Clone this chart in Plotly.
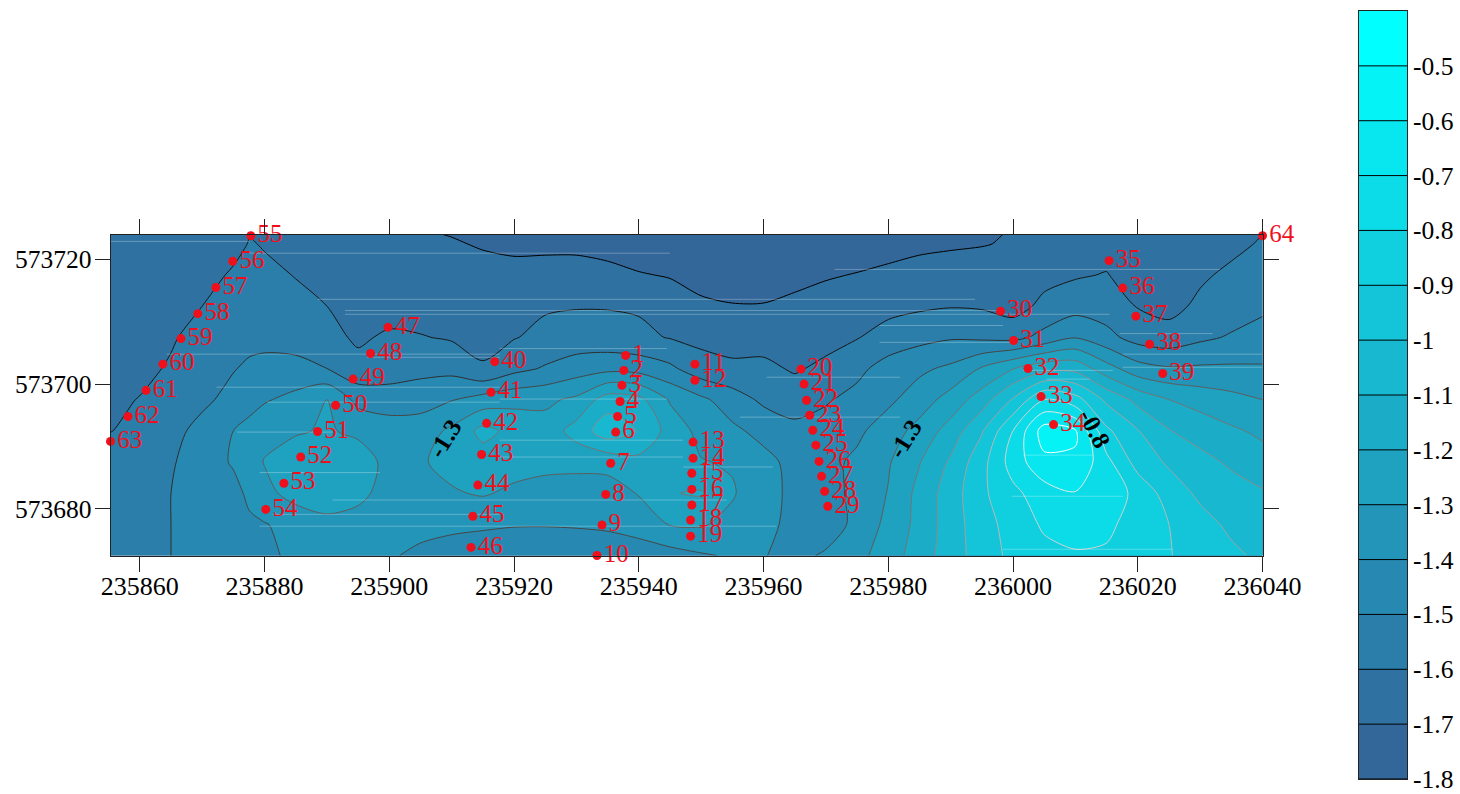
import plotly.graph_objects as go

# ---- data ----
GRID_X = [235855,235860,235865,235870,235875,235877.6,235880,235885,235890,235895,235900,235905,235910,235915,235920,235925,235930,235935,235940,235945,235950,235955,235960,235965,235970,235975,235980,235985,235990,235995,236000,236005,236010,236015,236020,236025,236030,236035,236040]
GRID_Y = [573672.5, 573677.5, 573682.5, 573687.5, 573692.5, 573697.5,
          573702.5, 573707.5, 573712.5, 573717.5, 573722.5, 573724]
R0 = [-1.54,-1.53,-1.50,-1.47,-1.44,-1.42,-1.41,-1.39,-1.37,-1.37,-1.39,-1.42,-1.43,-1.44,-1.45,-1.46,-1.47,-1.47,-1.46,-1.44,-1.41,-1.39,-1.397,-1.42,-1.39,-1.33,-1.25,-1.15,-1.05,-0.95,-0.875,-0.83,-0.81,-0.81,-0.85,-0.895,-0.94,-0.98,-1.02]
R1 = [-1.53,-1.52,-1.50,-1.46,-1.43,-1.415,-1.405,-1.37,-1.34,-1.33,-1.34,-1.37,-1.385,-1.39,-1.395,-1.395,-1.39,-1.38,-1.35,-1.295,-1.29,-1.33,-1.38,-1.42,-1.44,-1.38,-1.27,-1.17,-1.05,-0.94,-0.86,-0.785,-0.76,-0.785,-0.83,-0.90,-0.965,-1.02,-1.05]
R2 = [-1.52,-1.52,-1.50,-1.45,-1.43,-1.38,-1.33,-1.26,-1.22,-1.28,-1.33,-1.34,-1.31,-1.29,-1.32,-1.34,-1.35,-1.34,-1.295,-1.205,-1.19,-1.29,-1.37,-1.42,-1.43,-1.38,-1.295,-1.17,-1.05,-0.92,-0.825,-0.745,-0.705,-0.735,-0.83,-0.945,-1.02,-1.06,-1.09]
R3 = [-1.53,-1.52,-1.51,-1.45,-1.39,-1.34,-1.295,-1.25,-1.22,-1.25,-1.33,-1.31,-1.27,-1.25,-1.26,-1.27,-1.27,-1.27,-1.23,-1.27,-1.295,-1.31,-1.37,-1.43,-1.43,-1.38,-1.31,-1.205,-1.085,-0.935,-0.755,-0.625,-0.61,-0.77,-0.94,-1.015,-1.07,-1.115,-1.16]
R4 = [-1.605,-1.57,-1.53,-1.47,-1.40,-1.365,-1.33,-1.31,-1.29,-1.32,-1.35,-1.35,-1.28,-1.17,-1.23,-1.26,-1.16,-1.04,-1.105,-1.24,-1.33,-1.38,-1.43,-1.47,-1.46,-1.42,-1.35,-1.265,-1.16,-1.01,-0.80,-0.55,-0.59,-0.88,-0.995,-1.095,-1.14,-1.185,-1.22]
R5 = [-1.63,-1.595,-1.56,-1.52,-1.47,-1.44,-1.41,-1.37,-1.30,-1.43,-1.45,-1.44,-1.405,-1.36,-1.33,-1.32,-1.28,-1.15,-1.17,-1.31,-1.38,-1.45,-1.52,-1.55,-1.51,-1.47,-1.42,-1.35,-1.26,-1.15,-0.99,-0.80,-0.86,-1.02,-1.13,-1.20,-1.24,-1.27,-1.30]
R6 = [-1.64,-1.635,-1.585,-1.57,-1.505,-1.485,-1.47,-1.47,-1.50,-1.57,-1.55,-1.53,-1.53,-1.595,-1.53,-1.49,-1.45,-1.43,-1.44,-1.48,-1.56,-1.585,-1.58,-1.61,-1.58,-1.525,-1.46,-1.42,-1.38,-1.29,-1.205,-1.135,-1.13,-1.26,-1.36,-1.39,-1.385,-1.385,-1.39]
R7 = [-1.65,-1.65,-1.615,-1.55,-1.52,-1.525,-1.53,-1.54,-1.57,-1.615,-1.585,-1.595,-1.61,-1.615,-1.605,-1.575,-1.56,-1.565,-1.58,-1.605,-1.625,-1.63,-1.635,-1.635,-1.63,-1.605,-1.56,-1.53,-1.51,-1.52,-1.53,-1.47,-1.405,-1.47,-1.54,-1.56,-1.52,-1.49,-1.46]
R8 = [-1.67,-1.67,-1.66,-1.60,-1.545,-1.54,-1.54,-1.565,-1.60,-1.63,-1.64,-1.64,-1.64,-1.63,-1.63,-1.61,-1.605,-1.605,-1.61,-1.66,-1.685,-1.695,-1.695,-1.68,-1.655,-1.645,-1.63,-1.615,-1.605,-1.61,-1.64,-1.575,-1.54,-1.55,-1.605,-1.63,-1.58,-1.55,-1.52]
R9 = [-1.69,-1.69,-1.68,-1.67,-1.575,-1.565,-1.57,-1.605,-1.64,-1.66,-1.665,-1.675,-1.68,-1.68,-1.67,-1.665,-1.665,-1.68,-1.695,-1.705,-1.73,-1.745,-1.745,-1.725,-1.71,-1.695,-1.68,-1.665,-1.645,-1.65,-1.65,-1.63,-1.61,-1.595,-1.65,-1.65,-1.615,-1.58,-1.56]
R10 = [-1.695,-1.695,-1.69,-1.685,-1.66,-1.59,-1.61,-1.645,-1.665,-1.68,-1.69,-1.695,-1.695,-1.705,-1.72,-1.72,-1.72,-1.725,-1.74,-1.75,-1.77,-1.785,-1.785,-1.77,-1.77,-1.755,-1.735,-1.72,-1.715,-1.705,-1.69,-1.665,-1.65,-1.64,-1.66,-1.68,-1.66,-1.625,-1.59]
R11 = [-1.695,-1.695,-1.695,-1.695,-1.67,-1.605,-1.625,-1.66,-1.675,-1.685,-1.69,-1.695,-1.702,-1.72,-1.74,-1.745,-1.75,-1.755,-1.765,-1.775,-1.79,-1.795,-1.795,-1.79,-1.79,-1.775,-1.755,-1.735,-1.725,-1.71,-1.695,-1.67,-1.655,-1.65,-1.665,-1.685,-1.67,-1.64,-1.60]

POINT_X = [235937.9,235937.6,235937.3,235937.0,235936.6,235936.3,235935.5,235934.7,235934.1,235933.3,
           235949.0,235949.0,235948.7,235948.7,235948.5,235948.5,235948.5,235948.3,235948.3,
           235966.0,235966.5,235966.9,235967.4,235967.9,235968.4,235968.9,235969.3,235969.8,235970.3,
           235998.0,236000.1,236002.4,236004.5,236006.5,
           236015.4,236017.6,236019.7,236021.9,236024.0,
           235916.9,235916.3,235915.6,235914.8,235914.2,235913.4,235913.1,
           235899.8,235897.0,235894.2,235891.4,235888.5,235885.8,235883.1,235880.2,
           235877.8,235874.9,235872.2,235869.3,235866.6,235863.7,235861.0,235858.1,235855.3,
           236040.0]
POINT_Y = [573704.6,573702.2,573699.8,573697.2,573694.8,573692.3,573687.3,573682.3,573677.4,573672.5,
           573703.2,573700.6,573690.7,573688.1,573685.7,573683.1,573680.6,573678.2,573675.6,
           573702.4,573700.0,573697.4,573695.0,573692.6,573690.2,573687.6,573685.2,573682.8,573680.4,
           573711.7,573707.0,573702.5,573698.0,573693.5,
           573719.8,573715.4,573710.9,573706.4,573701.7,
           573703.6,573698.7,573693.7,573688.7,573683.8,573678.8,573673.8,
           573709.1,573704.9,573700.8,573696.6,573692.4,573688.3,573684.1,573679.9,
           573723.8,573719.7,573715.5,573711.3,573707.3,573703.2,573699.0,573694.8,573690.8,
           573723.8]
POINT_LABELS = [str(i) for i in range(1, 65)]

# faint pale horizontal streaks visible inside the map
STREAK_Y = [573722.9,573721.0,573718.4,573713.6,573711.8,573711.2,573709.4,573708.1,573706.7,573705.7,573704.8,573704.3,
            573704.8,573702.7,573702.2,573701.1,573700.8,573699.5,573697.6,573697.1,573694.7,573692.3,573691.0,573688.6,
            573688.3,573686.7,573685.8,573682.0,573681.4,573681.4,573679.1,573677.2,573677.2,573673.5]
STREAK_X0 = [235855.3,235877.6,235971.4,235888.5,235892.9,235892.9,235978.6,236017.1,235978.6,235917.7,235864.3,235896.4,
             236017.6,236017.6,236001.6,235960.5,236005.4,235872.3,235917.7,235880.4,235956.2,235875.6,235917.7,236001.6,
             235917.7,235947.1,235879.2,235999.8,235890.9,235917.7,235881.3,235879.2,235917.7,235998.4]
STREAK_X1 = [235877.6,235945.0,236033.2,235993.9,235997.9,236015.5,235998.4,236032.0,236000.0,235944.5,235917.7,235917.7,
             236040.0,236040.0,236016.0,235981.9,236012.3,235917.7,235944.5,235917.7,235981.9,235890.9,235947.1,236012.8,
             235947.1,235961.5,235898.5,236017.6,235917.7,235954.1,235917.7,235917.7,235962.1,236025.6]

LEVELS = [-1.8,-1.7,-1.6,-1.5,-1.4,-1.3,-1.2,-1.1,-1.0,-0.9,-0.8,-0.7,-0.6,-0.5,-0.4]
LINE_LEVELS = [-1.7,-1.6,-1.5,-1.4,-1.3,-1.2,-1.1,-1.0,-0.9,-0.8,-0.7,-0.6]
BAR_TICKS = [-0.5,-0.6,-0.7,-0.8,-0.9,-1.0,-1.1,-1.2,-1.3,-1.4,-1.5,-1.6,-1.7,-1.8]
BAR_TICK_TEXT = ["-0.5","-0.6","-0.7","-0.8","-0.9","-1","-1.1","-1.2","-1.3","-1.4","-1.5","-1.6","-1.7","-1.8"]
X_TICKS = [235860,235880,235900,235920,235940,235960,235980,236000,236020,236040]
Y_TICKS = [573680,573700,573720]
LABELS = [("-1.3",235908.9,573691.3,-58),("-1.3",235982.7,573691.3,-58),("-0.8",236013.1,573692.9,62)]

# ---- styles ----
FONT = "Liberation Serif"
W, H = 1460, 794
Z = [R0,R1,R2,R3,R4,R5,R6,R7,R8,R9,R10,R11]
SMOOTH = 0.8

def band_color(i):
    t = i / 13
    return "rgb(%d,%d,%d)" % (round(51*(1-t)), round(102+153*t), round(153+102*t))

stops = [[0, band_color(0)]]
for i in range(14):
    stops.append([(LEVELS[i] + 0.05 + 1.85) / 1.5, band_color(i)])
stops.append([1, band_color(13)])
CONT = dict(start=-1.8, end=-0.4, size=0.1)

fig = go.Figure()
fig.add_trace(go.Contour(x=GRID_X, y=GRID_Y, z=Z, colorscale=stops, showscale=False,
                         autocontour=False, contours=dict(coloring="fill", showlines=False, **CONT),
                         line=dict(width=0, smoothing=SMOOTH), hoverinfo="skip"))
sx, sy = [], []
for y, x0, x1 in zip(STREAK_Y, STREAK_X0, STREAK_X1):
    sx += [x0, x1, None]
    sy += [y, y, None]
fig.add_trace(go.Scatter(x=sx, y=sy, mode="lines", line=dict(color="rgba(255,255,255,0.28)", width=1), hoverinfo="skip"))
for lev in LINE_LEVELS:
    g = round((lev + 1.7) / 1.1 * 255)
    fig.add_trace(go.Contour(x=GRID_X, y=GRID_Y, z=Z, showscale=False, autocontour=False,
                             contours=dict(coloring="none", start=lev, end=lev, size=0.1),
                             line=dict(color="rgb(%d,%d,%d)" % (g, g, g), width=1, smoothing=SMOOTH), hoverinfo="skip"))
fig.add_trace(go.Scatter(x=POINT_X, y=POINT_Y, text=POINT_LABELS, mode="markers+text",
                         textposition="middle right", cliponaxis=False,
                         marker=dict(color="#f0101c", size=9),
                         textfont=dict(family=FONT, size=25, color="#f0101c"), hoverinfo="skip"))
fig.add_trace(go.Contour(x=[0, 1], y=LEVELS, z=[[l, l] for l in LEVELS], colorscale=stops, showscale=False,
                         autocontour=False, xaxis="x2", yaxis="y2",
                         contours=dict(coloring="fill", **CONT), line=dict(color="black", width=1, smoothing=0),
                         hoverinfo="skip"))
for text, x, y, angle in LABELS:
    fig.add_annotation(x=x, y=y, text="<b>%s</b>" % text, textangle=angle, showarrow=False,
                       font=dict(family=FONT, size=25, color="black"))

AX = dict(showgrid=False, zeroline=False, showline=True, linecolor="#222", linewidth=1, mirror="allticks",
          ticks="outside", ticklen=15, tickcolor="#222", tickwidth=1, automargin=False)
fig.update_layout(
    width=W, height=H, margin=dict(l=0, r=0, t=0, b=0), paper_bgcolor="white", plot_bgcolor="white",
    showlegend=False,
    xaxis=dict(domain=[110.5/W, 1262.5/W], range=[235855.3, 236040], tickvals=X_TICKS,
               ticktext=[str(v) for v in X_TICKS], ticklabelstandoff=-8,
               tickfont=dict(family=FONT, size=26, color="black"), **AX),
    yaxis=dict(domain=[1-555.5/H, 1-234.5/H], range=[573672.5, 573724], tickvals=Y_TICKS,
               ticktext=[str(v) for v in Y_TICKS], ticklabelstandoff=-2,
               tickfont=dict(family=FONT, size=25.5, color="black"), **AX),
    xaxis2=dict(domain=[1359/W, 1407/W], range=[0, 1], anchor="y2", showticklabels=False, ticks="",
                automargin=False, showgrid=False, zeroline=False, showline=True, linecolor="#222", mirror=True),
    yaxis2=dict(domain=[1-779/H, 1-11/H], range=[-1.8, -0.4], anchor="x2", side="right", tickvals=BAR_TICKS,
                ticktext=BAR_TICK_TEXT, ticks="", automargin=False, showgrid=False, zeroline=False, showline=True,
                linecolor="#222", mirror=True, tickfont=dict(family=FONT, size=25.5, color="black")),
)
fig.write_html("out.html", config=dict(displayModeBar=False), post_script="document.body.style.margin='0';")
